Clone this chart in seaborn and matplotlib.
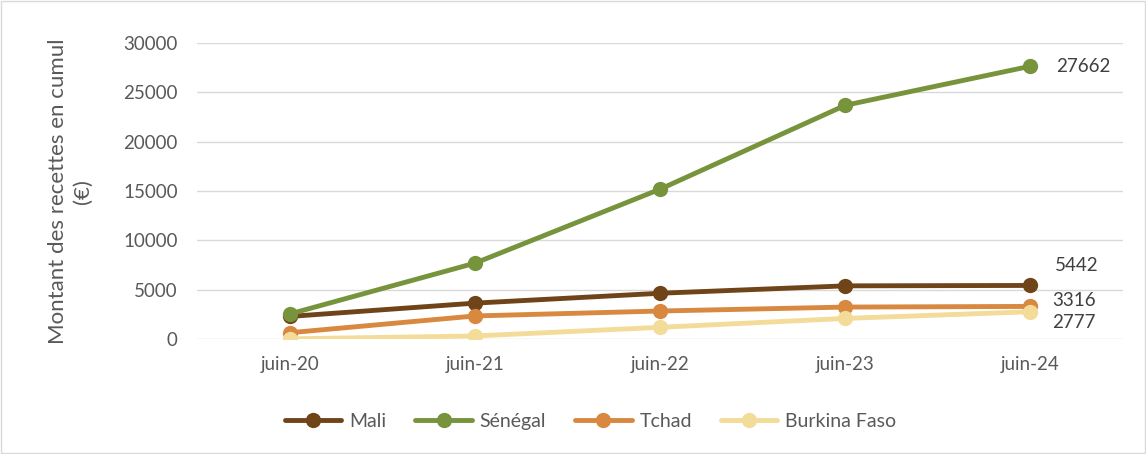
import numpy as np
import pandas as pd
import matplotlib
matplotlib.use('Agg')
import matplotlib.pyplot as plt
import seaborn as sns

periods = ['juin-20', 'juin-21', 'juin-22', 'juin-23', 'juin-24']
mali = [2300, 3650, 4650, 5400, 5442]
senegal = [2550, 7700, 15200, 23700, 27662]
tchad = [650, 2350, 2850, 3250, 3316]
burkina = [30, 320, 1200, 2100, 2777]

series_names = ['Mali', 'Sénégal', 'Tchad', 'Burkina Faso']
palette = {'Mali': '#704419', 'Sénégal': '#77933C',
           'Tchad': '#D8883F', 'Burkina Faso': '#F3DC9A'}

df = pd.DataFrame({'period': periods * 4,
                   'pos': list(range(len(periods))) * 4,
                   'value': mali + senegal + tchad + burkina,
                   'country': [n for n in series_names for _ in periods]})

sns.set_theme(style='white')
plt.rcParams['font.family'] = ['Lato', 'DejaVu Sans']

fig = plt.figure(figsize=(11.46, 4.54), dpi=100)
ax = fig.add_axes([0.172, 0.253, 0.808, 0.652])

sns.lineplot(data=df, x='pos', y='value', hue='country', palette=palette,
             hue_order=series_names, marker='o', markersize=11,
             markeredgewidth=0, linewidth=3.5, ax=ax, legend=True)

ax.set_xlim(-0.5, 4.5)
ax.set_ylim(0, 30000)
ax.set_yticks(np.arange(0, 30001, 5000))
ax.set_xticks(range(len(periods)))
ax.set_xticklabels(periods)
ax.tick_params(axis='both', labelsize=13.5, colors='#595959', length=0)
ax.tick_params(axis='x', pad=12)
ax.tick_params(axis='y', pad=14)
ax.yaxis.grid(True, color='#D9D9D9', linewidth=1)
ax.set_axisbelow(True)
for s in ax.spines.values():
    s.set_visible(False)
ax.set_xlabel('')
ax.set_ylabel('Montant des recettes en cumul\n(€)', fontsize=16, color='#595959',
              labelpad=22, linespacing=1.3)

# end labels
last = len(periods) - 1
lab = dict(textcoords='offset pixels', va='center', fontsize=13.5, color='#404040')
ax.annotate(f'{senegal[-1]}', (last, senegal[-1]), xytext=(26, 0), **lab)
ax.annotate(f'{mali[-1]}', (last, mali[-1]), xytext=(24, 20), **lab)
ax.annotate(f'{tchad[-1]}', (last, tchad[-1]), xytext=(22, 6), **lab)
ax.annotate(f'{burkina[-1]}', (last, burkina[-1]), xytext=(22, -11), **lab)

leg = ax.legend(loc='upper center', bbox_to_anchor=(0.425, -0.19), ncol=4,
                frameon=False, fontsize=14, handlelength=2.9, columnspacing=1.5,
                handletextpad=0.4)
for t in leg.get_texts():
    t.set_color('#595959')

fig.patches.append(plt.Rectangle((0.001, 0.002), 0.998, 0.996, transform=fig.transFigure,
                                 fill=False, edgecolor='#D9D9D9', linewidth=1))

fig.savefig('out.png', dpi=100)
